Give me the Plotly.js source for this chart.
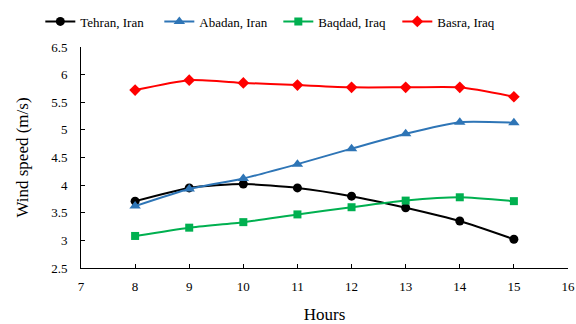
<!DOCTYPE html>
<html><head><meta charset="utf-8">
<script src="https://cdn.plot.ly/plotly-3.0.1.min.js"></script>
<style>html,body{margin:0;padding:0;background:#fff}#c{width:576px;height:324px}</style>
</head><body><div id="c"></div>
<script>
const hours = [8, 9, 10, 11, 12, 13, 14, 15];
const tehran = [3.71, 3.95, 4.02, 3.95, 3.80, 3.59, 3.35, 3.02];
const abadan = [3.62, 3.93, 4.12, 4.38, 4.66, 4.93, 5.14, 5.13];
const baqdad = [3.08, 3.23, 3.33, 3.47, 3.60, 3.72, 3.78, 3.71];
const basra  = [5.72, 5.90, 5.85, 5.81, 5.77, 5.77, 5.77, 5.60];

function tr(name, y, color, symbol, size) {
  return {x: hours, y: y, name: name, type: 'scatter', mode: 'lines+markers',
    line: {color: color, width: 2, shape: 'spline', smoothing: 0.6},
    marker: {color: color, symbol: symbol, size: size}};
}
const data = [
  tr('Tehran, Iran', tehran, '#000000', 'circle', 9),
  tr('Abadan, Iran', abadan, '#2E75B6', 'triangle-up', 10),
  tr('Baqdad, Iraq', baqdad, '#00B050', 'square', 8),
  tr('Basra, Iraq', basra, '#FF0000', 'diamond', 9)
];
const fam = 'Liberation Serif, serif';
const layout = {
  width: 576, height: 324,
  margin: {l: 81, r: 8, t: 47, b: 56},
  paper_bgcolor: '#fff', plot_bgcolor: '#fff',
  font: {family: fam, color: '#000', size: 13},
  showlegend: true,
  legend: {orientation: 'h', xref: 'container', x: 0.07, xanchor: 'left', y: 0.98, yref: 'container', yanchor: 'top',
    font: {family: fam, size: 13, color: '#000'}, itemwidth: 30, entrywidth: 74, tracegroupgap: 0},
  xaxis: {range: [7, 16], dtick: 1, tick0: 7, showgrid: false, zeroline: false,
    showline: true, linecolor: '#000', linewidth: 1, ticks: 'inside', ticklen: 4, tickcolor: '#000',
    ticklabelstandoff: 6,
    tickfont: {family: fam, size: 13}, title: {text: 'Hours', font: {family: fam, size: 17}, standoff: 20}},
  yaxis: {range: [2.5, 6.5], dtick: 0.5, tick0: 2.5, showgrid: false, zeroline: false,
    showline: true, linecolor: '#000', linewidth: 1, ticks: 'inside', ticklen: 4, tickcolor: '#000',
    ticklabelstandoff: 10,
    tickfont: {family: fam, size: 13}, title: {text: 'Wind speed (m/s)', font: {family: fam, size: 17}, standoff: 18}}
};
Plotly.newPlot('c', data, layout, {displayModeBar: false, staticPlot: true});
</script></body></html>
